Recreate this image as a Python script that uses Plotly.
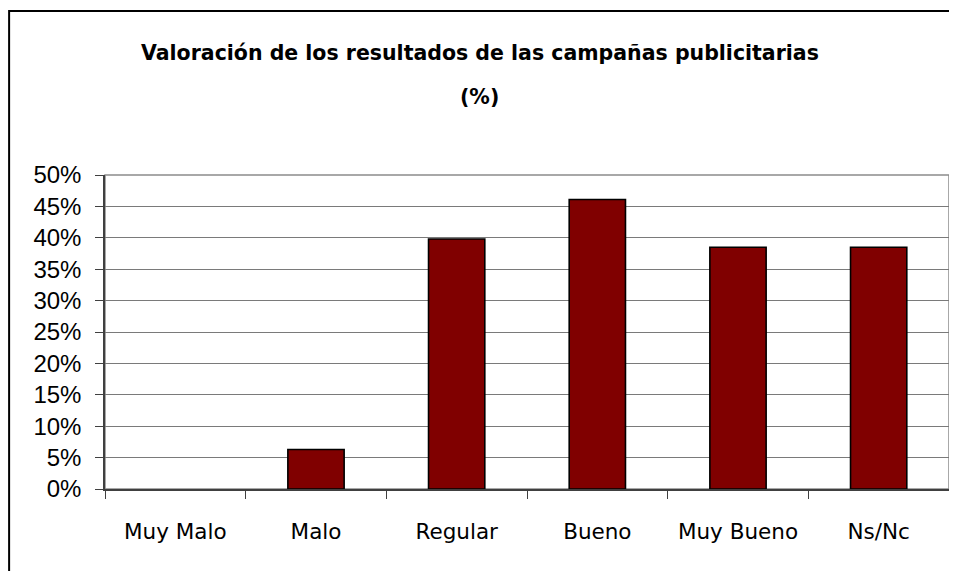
import plotly.graph_objects as go

categories = ["Muy Malo", "Malo", "Regular", "Bueno", "Muy Bueno", "Ns/Nc"]
values = [0.0, 6.3, 39.8, 46.1, 38.5, 38.5]
y_ticks = list(range(0, 51, 5))
y_labels = [f"{v}%" for v in y_ticks]
title_lines = ["Valoración de los resultados de las campañas publicitarias", "(%)"]

# the page body has an 8px margin, so the figure is 16px smaller than the window
OFF = 8
W, H = 957 - 2 * OFF, 579 - 2 * OFF
L, T = 105 - OFF, 175 - OFF
R = W - (950 - OFF)
B = H - (489 - OFF)
pw, ph = W - L - R, H - T - B


def px_x(x):
    return (x - OFF - L) / pw


def px_y(y):
    return 1 - (y - OFF - T) / ph


# an empty bar gets no outline, as in the original
outline = [0 if v == 0 else 1.6 for v in values]

fig = go.Figure(go.Bar(
    x=categories, y=values,
    marker=dict(color="#800000", line=dict(color="#000000", width=outline)),
    hoverinfo="x+y",
))

fig.update_layout(
    width=W, height=H,
    margin=dict(l=L, r=max(R, 0), t=T, b=B),
    plot_bgcolor="white", paper_bgcolor="white",
    bargap=0.6, showlegend=False,
    shapes=[
        # chart frame, runs off the right and bottom of the picture
        dict(type="rect", xref="paper", yref="paper",
             x0=px_x(9), x1=px_x(1000), y0=px_y(640), y1=px_y(11),
             line=dict(color="black", width=2)),
        # plot area border
        dict(type="rect", xref="paper", yref="paper", x0=0, x1=1, y0=0, y1=1,
             line=dict(color="#8c8c8c", width=1.5), layer="below"),
    ],
    annotations=[
        dict(text=f"<b>{title_lines[0]}</b>", xref="paper", yref="paper",
             x=px_x(480), y=px_y(53), xanchor="center", yanchor="middle",
             showarrow=False,
             font=dict(family="DejaVu Sans", size=20.5, color="black")),
        dict(text=f"<b>{title_lines[1]}</b>", xref="paper", yref="paper",
             x=px_x(480), y=px_y(97), xanchor="center", yanchor="middle",
             showarrow=False,
             font=dict(family="DejaVu Sans", size=20.5, color="black")),
    ],
)

fig.update_yaxes(
    range=[0, 50], tickvals=y_ticks, ticktext=y_labels,
    showgrid=True, gridcolor="#7a7a7a", gridwidth=1,
    showline=True, linecolor="#404040", linewidth=1.5,
    ticks="outside", ticklen=8, tickcolor="#404040",
    tickfont=dict(family="Liberation Sans, Arial", size=24, color="black"),
    ticklabelstandoff=9, zeroline=False, fixedrange=True,
)
fig.update_xaxes(
    showline=True, linecolor="#404040", linewidth=2,
    ticks="outside", ticklen=8, tickcolor="#404040", tickson="boundaries",
    tickfont=dict(family="DejaVu Sans", size=21.5, color="black"),
    ticklabelstandoff=22, fixedrange=True,
)

fig.write_html("out.html")
